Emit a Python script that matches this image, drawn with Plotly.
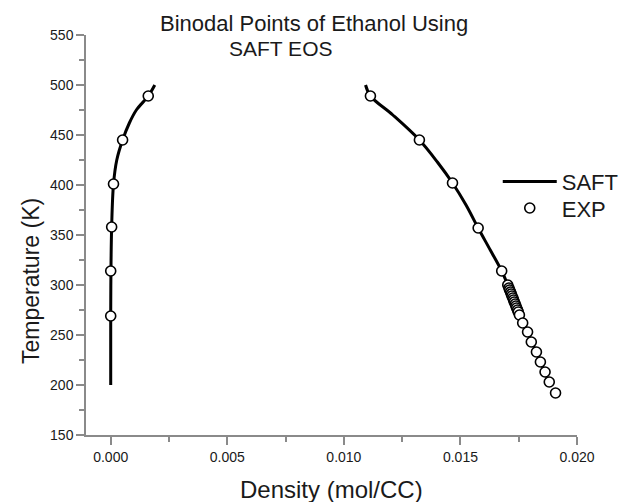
import plotly.graph_objects as go

# SAFT EOS curve (vapor and liquid branches)
saft_vap_T = [200, 270, 314, 358, 401, 425, 445, 462, 475, 489, 500]
saft_vap_rho = [0.0, 0.0, 0.00001, 0.00004, 0.00012, 0.00026, 0.00051, 0.00080, 0.00110, 0.00161, 0.00189]
saft_liq_T = [500, 489, 470, 445, 423, 402, 380, 357, 335, 314, 300, 270, 240, 200]
saft_liq_rho = [0.01093, 0.01114, 0.01210, 0.01324, 0.01401, 0.01466, 0.01524, 0.01576, 0.01628, 0.01677,
                0.01703, 0.01753, 0.01812, 0.01885]

# Experimental points
exp_vap_T = [269, 314, 358, 401, 445, 489]
exp_vap_rho = [0.0, 0.0, 0.00004, 0.00012, 0.00051, 0.00161]
exp_liq_T = [489, 445, 402, 357, 314, 300, 297, 295, 293, 291, 289, 287, 285, 283, 281, 279, 277, 275, 273,
             270, 262, 253, 243, 233, 223, 213, 203, 192]
exp_liq_rho = [0.01114, 0.01324, 0.01466, 0.01576, 0.01677, 0.01703, 0.01708, 0.01711, 0.01715, 0.01718,
               0.01721, 0.01725, 0.01728, 0.01731, 0.01735, 0.01738, 0.01741, 0.01745, 0.01748,
               0.01753, 0.01767, 0.01788, 0.01804, 0.01826, 0.01843, 0.01863, 0.01881, 0.01908]

FONT = "Arial, Liberation Sans, sans-serif"
TXT = "#1a1a1a"
AX = "#8a8a8a"

fig = go.Figure()
fig.add_trace(go.Scatter(
    x=saft_vap_rho + [None] + saft_liq_rho, y=saft_vap_T + [None] + saft_liq_T,
    mode="lines", name="SAFT", legend="legend",
    line=dict(color="black", width=3, shape="spline", smoothing=1.0), connectgaps=False))
fig.add_trace(go.Scatter(
    x=exp_vap_rho + [None] + exp_liq_rho, y=exp_vap_T + [None] + exp_liq_T,
    mode="markers", name="EXP", legend="legend2",
    marker=dict(symbol="circle", size=10, color="white", line=dict(color="black", width=1.6))))

axis_common = dict(showline=True, linecolor=AX, linewidth=1.5, showgrid=False, zeroline=False,
                   ticks="outside", ticklen=8, tickwidth=1.5, tickcolor=AX,
                   tickfont=dict(family=FONT, size=14, color=TXT), mirror=False)

leg_common = dict(xanchor="left", yanchor="middle", bgcolor="rgba(0,0,0,0)", itemwidth=54,
                  font=dict(family=FONT, size=22, color=TXT))

fig.update_layout(
    width=636, height=502,
    margin=dict(l=86, r=42, t=35, b=67),
    paper_bgcolor="white", plot_bgcolor="white",
    font=dict(family=FONT, color=TXT),
    showlegend=True,
    legend=dict(x=0.8386, y=0.633, **leg_common),
    legend2=dict(x=0.8386, y=0.567, **leg_common),
    xaxis=dict(range=[-0.00106, 0.0200], tick0=0, dtick=0.005, tickformat=".3f",
               minor=dict(ticks="outside", ticklen=5, tickwidth=1.5, tickcolor=AX, dtick=0.0025),
               **axis_common),
    yaxis=dict(range=[150, 550], tick0=150, dtick=50,
               minor=dict(ticks="outside", ticklen=5, tickwidth=1.5, tickcolor=AX, dtick=25),
               **axis_common),
    annotations=[
        dict(text="Binodal Points of Ethanol Using", xref="paper", yref="paper", x=0.465, y=1.0275,
             xanchor="center", yanchor="middle", showarrow=False, font=dict(family=FONT, size=22, color=TXT)),
        dict(text="SAFT EOS", xref="paper", yref="paper", x=0.396, y=0.966,
             xanchor="center", yanchor="middle", showarrow=False, font=dict(family=FONT, size=21, color=TXT)),
        dict(text="Density (mol/CC)", xref="paper", yref="paper", x=0.5, y=-0.135,
             xanchor="center", yanchor="middle", showarrow=False, font=dict(family=FONT, size=24, color=TXT)),
        dict(text="Temperature (K)", xref="paper", yref="paper", x=-0.112, y=0.385, textangle=-90,
             xanchor="center", yanchor="middle", showarrow=False, font=dict(family=FONT, size=23, color=TXT)),
    ],
)

fig.write_html("out.html")
